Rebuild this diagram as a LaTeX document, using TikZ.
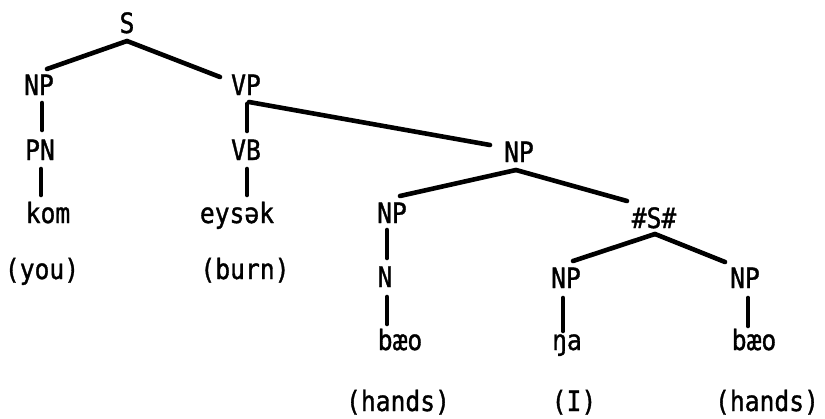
\documentclass[tikz,border=0pt]{standalone}
\usepackage{fontspec}
\setmainfont{DejaVu Sans Mono}[FakeStretch=0.88,FakeBold=1.2]
\begin{document}
\begin{tikzpicture}[x=1pt,y=-1pt,
  lbl/.style={anchor=base, inner sep=0pt, font=\fontsize{28}{30}\selectfont},
  br/.style={line width=4.6pt, line cap=round}]
\useasboundingbox (0,0) rectangle (825,418);
% labels
\node[lbl] (S)   at (127,33) {S};
\node[lbl] (NPa) at (39,95) {NP};
\node[lbl] (VP)  at (246,95) {VP};
\node[lbl] (PN)  at (40,160) {PN};
\node[lbl] (VB)  at (246,160) {VB};
\node[lbl] (kom) at (48,223) {kom};
\node[lbl] (eys) at (237,223) {eysək};
\node[lbl] (you) at (42,279) {(you)};
\node[lbl] (burn) at (245,279) {(burn)};
\node[lbl] (NPm) at (519,162) {NP};
\node[lbl] (NPb) at (392,223) {NP};
\node[lbl] (SS)  at (654,228) {\#S\#};
\node[lbl] (N)   at (385,287) {N};
\node[lbl] (NPc) at (566,288) {NP};
\node[lbl] (NPd) at (745,288) {NP};
\node[lbl] (bao1) at (400,350) {bæo};
\node[lbl] (nga) at (567,350) {ŋa};
\node[lbl] (bao2) at (754,350) {bæo};
\node[lbl] (hands1) at (398,411) {(hands)};
\node[lbl] (I) at (574,411) {(I)};
\node[lbl] (hands2) at (767,411) {(hands)};
% branches
\draw[br] ([shift={(0,8)}]S.base) -- ([shift={(8,-26)}]NPa.base);
\draw[br] ([shift={(0,8)}]S.base) -- ([shift={(-26,-18)}]VP.base);
\draw[br] ([shift={(1,9)}]VP.base) -- ([shift={(1,-29)}]VB.base);
\draw[br] ([shift={(3,7)}]VP.base) -- ([shift={(-29,-17)}]NPm.base);
\draw[br] ([shift={(3,8)}]NPa.base) -- ([shift={(2,-30)}]PN.base);
\draw[br] ([shift={(1,9)}]PN.base) -- ([shift={(-7,-28)}]kom.base);
\draw[br] ([shift={(1,9)}]VB.base) -- ([shift={(10,-28)}]eys.base);
\draw[br] ([shift={(-3,8)}]NPm.base) -- ([shift={(8,-27)}]NPb.base);
\draw[br] ([shift={(-3,8)}]NPm.base) -- ([shift={(-27,-27)}]SS.base);
\draw[br] ([shift={(-5,7)}]NPb.base) -- ([shift={(2,-29)}]N.base);
\draw[br] ([shift={(2,10)}]N.base) -- ([shift={(-13,-26)}]bao1.base);
\draw[br] ([shift={(1,6)}]SS.base) -- ([shift={(7,-27)}]NPc.base);
\draw[br] ([shift={(1,6)}]SS.base) -- ([shift={(-20,-26)}]NPd.base);
\draw[br] ([shift={(-3,10)}]NPc.base) -- ([shift={(-4,-19)}]nga.base);
\draw[br] ([shift={(3,10)}]NPd.base) -- ([shift={(-6,-24)}]bao2.base);
\end{tikzpicture}
\end{document}
